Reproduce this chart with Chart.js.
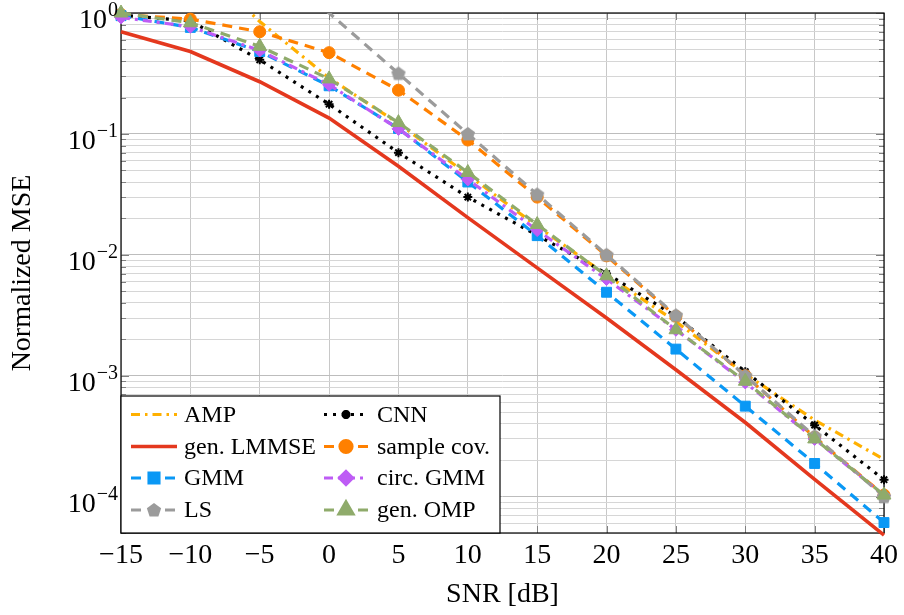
<!DOCTYPE html>
<html>
<head>
<meta charset="utf-8">
<script src="https://cdn.jsdelivr.net/npm/chart.js@4/dist/chart.umd.min.js"></script>
<style>
  body { margin: 0; background: #fff; }
  canvas { display: block; }
</style>
</head>
<body>
<canvas id="chart" width="904" height="615"></canvas>
<script>
// SNR in dB
const snr = [-15, -10, -5, 0, 5, 10, 15, 20, 25, 30, 35, 40];

// normalized MSE per method
const mseAMP       = [6.0, 3.0, 0.85, 0.29, 0.122, 0.046, 0.0172, 0.0068, 0.0028, 0.00103, 0.00043, 0.000203];
const mseCNN       = [0.96, 0.86, 0.41, 0.176, 0.070, 0.030, 0.0145, 0.0070, 0.0031, 0.00108, 0.00039, 0.000138];
const mseLMMSE     = [0.70, 0.48, 0.27, 0.135, 0.054, 0.0203, 0.0078, 0.0030, 0.00112, 0.00041, 0.000139, 0.000048];
const mseSampleCov = [0.97, 0.89, 0.70, 0.47, 0.23, 0.089, 0.0300, 0.0098, 0.0031, 0.00100, 0.00031, 0.000103];
const mseGMM       = [0.95, 0.76, 0.48, 0.25, 0.111, 0.040, 0.0144, 0.0049, 0.00166, 0.00056, 0.000188, 0.000061];
const mseCircGMM   = [0.92, 0.77, 0.49, 0.255, 0.110, 0.042, 0.0160, 0.0063, 0.0024, 0.00088, 0.00030, 0.000102];
const mseLS        = [31.6, 10.0, 3.16, 1.0, 0.316, 0.100, 0.0316, 0.0100, 0.00316, 0.00100, 0.000316, 0.000100];
const mseOMP       = [1.0, 0.83, 0.53, 0.285, 0.124, 0.048, 0.0178, 0.0067, 0.0024, 0.00090, 0.00030, 0.000103];

const yDecades = [0, -1, -2, -3, -4];
const xTicks = [-15, -10, -5, 0, 5, 10, 15, 20, 25, 30, 35, 40];

const serif = "'Liberation Serif', 'DejaVu Serif', serif";

// gray pentagon marker for LS
const pentagon = (function () {
    var c = document.createElement('canvas');
    c.width = 16; c.height = 16;
    var g = c.getContext('2d');
    g.fillStyle = '#9b9b9b';
    g.beginPath();
    for (var k = 0; k < 5; k++) {
        var a = -Math.PI / 2 + k * 2 * Math.PI / 5;
        g.lineTo(8 + 7.5 * Math.cos(a), 8.5 + 7.5 * Math.sin(a));
    }
    g.closePath();
    g.fill();
    return c;
})();

// legend order (row-wise, 2 columns) = drawing order
const series = [
    { label: 'AMP',          data: mseAMP,       color: '#ffb000', dash: [9, 5, 2.5, 5], width: 3.2, style: false },
    { label: 'CNN',          data: mseCNN,       color: '#000000', dash: [3, 6],         width: 3.2, style: 'star', radius: 4.5 },
    { label: 'gen. LMMSE',   data: mseLMMSE,     color: '#e4381e', dash: [],             width: 3.6, style: false },
    { label: 'sample cov.',  data: mseSampleCov, color: '#ff8000', dash: [10, 7],        width: 3.2, style: 'circle', radius: 6 },
    { label: 'GMM',          data: mseGMM,       color: '#0a98f5', dash: [10, 7],        width: 3.2, style: 'rect', radius: 7 },
    { label: 'circ. GMM',    data: mseCircGMM,   color: '#be5cf5', dash: [9, 5, 3, 5],   width: 3.2, style: 'rectRot', radius: 6.5 },
    { label: 'LS',           data: mseLS,        color: '#9b9b9b', dash: [10, 7],        width: 3.2, style: pentagon, radius: 8, hideFirst: 4 },
    { label: 'gen. OMP',     data: mseOMP,       color: '#8fab6b', dash: [10, 7],        width: 3.2, style: 'triangle', radius: 8 }
];

var datasets = series.map(function (s, i) {
    var radii = s.data.map(function (v, j) {
        if (!s.style) return 0;
        if (s.hideFirst && j < s.hideFirst) return 0;
        return s.radius;
    });
    return {
        label: s.label,
        data: s.data.map(function (v, j) { return { x: snr[j], y: v }; }),
        borderColor: s.color,
        backgroundColor: s.color,
        borderWidth: s.width,
        borderDash: s.dash,
        pointStyle: s.style || 'circle',
        pointRadius: radii,
        pointHoverRadius: radii,
        pointBackgroundColor: s.color,
        pointBorderColor: s.color,
        pointBorderWidth: s.style === 'star' ? 2 : 1,
        tension: 0,
        order: series.length - 1 - i,
        clip: (s.label === 'LS' || s.label === 'AMP') ? { left: 10, right: 10, top: 0, bottom: 10 } : false
    };
});

function isDecade(v) {
    var l = Math.log10(v);
    return Math.abs(l - Math.round(l)) < 1e-6;
}

const framePlugin = {
    id: 'frame',
    beforeDatasetsDraw: function (chart) {
        var ctx = chart.ctx, a = chart.chartArea;
        var xs = chart.scales.x, ys = chart.scales.y;
        ctx.save();
        ctx.strokeStyle = '#808080';
        ctx.lineWidth = 1;
        ctx.beginPath();
        xTicks.forEach(function (t) {
            var px = Math.round(xs.getPixelForValue(t)) + 0.5;
            ctx.moveTo(px, a.top); ctx.lineTo(px, a.top + 7);
            ctx.moveTo(px, a.bottom); ctx.lineTo(px, a.bottom - 7);
        });
        ys.ticks.forEach(function (t) {
            var len = isDecade(t.value) ? 8 : 5;
            var py = Math.round(ys.getPixelForValue(t.value)) + 0.5;
            ctx.moveTo(a.left, py); ctx.lineTo(a.left + len, py);
            ctx.moveTo(a.right, py); ctx.lineTo(a.right - len, py);
        });
        ctx.stroke();
        ctx.strokeStyle = '#000';
        ctx.lineWidth = 1.2;
        ctx.strokeRect(a.left, a.top, a.right - a.left, a.bottom - a.top);
        ctx.restore();
    },
    afterDatasetsDraw: function (chart) {
        // legend box in lower-left corner
        var ctx = chart.ctx, a = chart.chartArea;
        var boxL = a.left, boxT = 396, boxR = 500, boxB = a.bottom;
        ctx.save();
        ctx.fillStyle = '#fff';
        ctx.fillRect(boxL, boxT, boxR - boxL, boxB - boxT);
        ctx.strokeStyle = '#000';
        ctx.lineWidth = 1.2;
        ctx.strokeRect(boxL, boxT, boxR - boxL, boxB - boxT);
        var rows = [414.5, 446.5, 478, 510];
        var cols = [{ x0: 131, x1: 177, tx: 184 }, { x0: 324, x1: 368, tx: 377 }];
        series.forEach(function (s, i) {
            var r = rows[Math.floor(i / 2)], c = cols[i % 2];
            ctx.strokeStyle = s.color;
            ctx.fillStyle = s.color;
            ctx.lineWidth = s.width;
            ctx.setLineDash(s.dash);
            ctx.beginPath();
            ctx.moveTo(c.x0, r); ctx.lineTo(c.x1, r);
            ctx.stroke();
            ctx.setLineDash([]);
            if (s.style) {
                Chart.helpers.drawPoint(ctx, {
                    pointStyle: s.style, radius: s.radius, rotation: 0,
                    borderWidth: s.style === 'star' ? 2 : 1
                }, (c.x0 + c.x1) / 2, r);
            }
            ctx.fillStyle = '#000';
            ctx.font = '24px ' + serif;
            ctx.textBaseline = 'middle';
            ctx.textAlign = 'left';
            ctx.fillText(s.label, c.tx, r + 1);
        });
        ctx.restore();
    },
    afterDraw: function (chart) {
        // y tick labels as 10^k
        var ctx = chart.ctx, ys = chart.scales.y;
        ctx.save();
        ctx.fillStyle = '#000';
        ctx.textAlign = 'right';
        ctx.textBaseline = 'alphabetic';
        yDecades.forEach(function (k) {
            var py = ys.getPixelForValue(Math.pow(10, k));
            var exp = k === 0 ? '0' : '\u2212' + (-k);
            ctx.font = '20px ' + serif;
            var w = ctx.measureText(exp).width;
            ctx.fillText(exp, 118, py + 3);
            ctx.font = '28px ' + serif;
            ctx.fillText('10', 118 - w - 1, py + 15);
        });
        ctx.restore();
    }
};

new Chart(document.getElementById('chart'), {
    type: 'line',
    data: { datasets: datasets },
    options: {
        responsive: false,
        devicePixelRatio: 1,
        animation: false,
        layout: { padding: { left: 0, top: 13, right: 19, bottom: 0 } },
        plugins: { legend: { display: false }, tooltip: { enabled: false } },
        scales: {
            x: {
                type: 'linear',
                min: -15,
                max: 40,
                afterBuildTicks: function (scale) {
                    scale.ticks = xTicks.map(function (v) { return { value: v }; });
                },
                afterFit: function (scale) { scale.height = 82; },
                grid: { color: '#c8c8c8', lineWidth: 1, drawTicks: false },
                border: { display: false },
                ticks: {
                    color: '#000',
                    padding: 6,
                    maxRotation: 0,
                    font: { family: serif, size: 28 },
                    callback: function (v) { return String(v).replace('-', '\u2212'); }
                },
                title: {
                    display: true,
                    text: 'SNR [dB]',
                    color: '#000',
                    font: { family: serif, size: 28 },
                    padding: { top: 0, bottom: 4 }
                }
            },
            y: {
                type: 'logarithmic',
                min: 5e-5,
                max: 1,
                afterBuildTicks: function (scale) {
                    var t = [];
                    for (var k = -5; k <= 0; k++) {
                        for (var m = 1; m <= 9; m++) {
                            var v = m * Math.pow(10, k);
                            if (v >= scale.min * 0.999 && v <= scale.max * 1.001) t.push({ value: v });
                        }
                    }
                    scale.ticks = t;
                },
                afterFit: function (scale) { scale.width = 121; },
                grid: {
                    drawTicks: false,
                    lineWidth: 1,
                    color: function (c) {
                        return c.tick && isDecade(c.tick.value) ? '#bdbdbd' : '#d6d6d6';
                    }
                },
                border: { display: false },
                ticks: { display: false },
                title: {
                    display: true,
                    text: 'Normalized MSE',
                    color: '#000',
                    font: { family: serif, size: 28 },
                    padding: { top: 6, bottom: 0 }
                }
            }
        }
    },
    plugins: [framePlugin]
});
</script>
</body>
</html>
